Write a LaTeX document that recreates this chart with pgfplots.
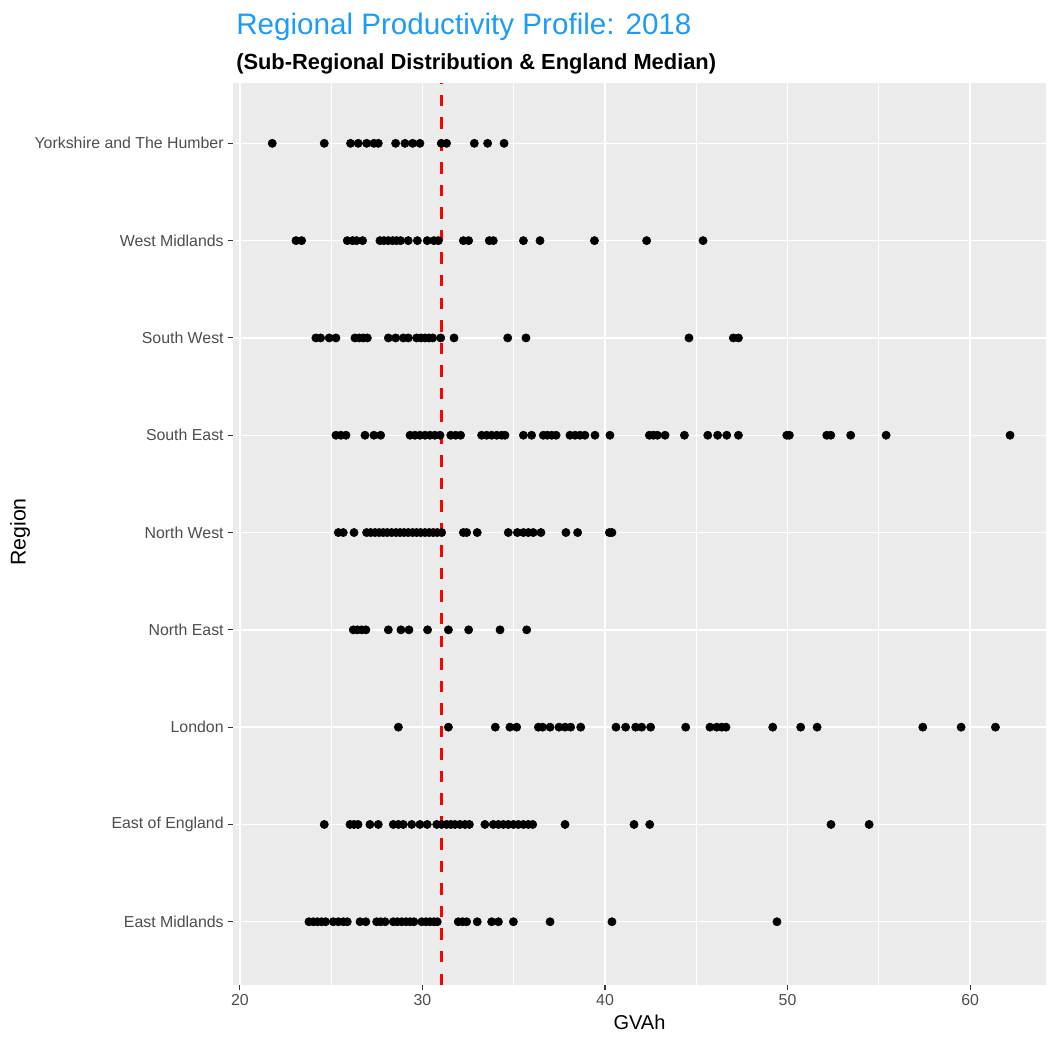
\documentclass[border=0pt]{standalone}
\usepackage{pgfplots}
\pgfplotsset{compat=1.18}
\usepackage{fontspec}
\setmainfont{Liberation Sans}
\definecolor{panelbg}{RGB}{235,235,235}
\definecolor{titleblue}{RGB}{30,155,245}
\definecolor{ticktext}{RGB}{77,77,77}
\definecolor{tickcol}{RGB}{51,51,51}
\begin{document}
\begin{tikzpicture}
\path[use as bounding box] (0,0) rectangle (789pt,777pt);
\begin{axis}[
 at={(174.75pt,38.25pt)}, anchor=south west,
 scale only axis, width=609.75pt, height=676.5pt,
 xmin=19.62, xmax=64.16, ymin=0.35, ymax=9.62,
 axis background/.style={fill=panelbg},
 axis line style={draw=none},
 xtick={20,30,40,50,60}, minor xtick={25,35,45,55},
 ytick={1,...,9},
 yticklabels={East Midlands, East of England, London, North East, North West, South East, South West, West Midlands, Yorkshire and The Humber},
 xtick pos=bottom, ytick pos=left,
 grid=both,
 major grid style={white, line width=1.1pt},
 minor grid style={white, line width=0.55pt},
 tick align=outside, major tick length=3.5pt, minor tick length=0pt,
 tick style={tickcol, line width=0.8pt},
 ticklabel style={font=\fontsize{11.9}{13}\selectfont, text=ticktext},
 /pgf/number format/assume math mode=true,
]
% East Midlands (1)
\addplot[only marks, mark=*, mark size=3.1pt, black] coordinates {
(23.78,1)(24.02,1)(24.24,1)(24.47,1)(24.69,1)(25.11,1)(25.39,1)(25.66,1)(25.88,1)
(26.58,1)(26.90,1)(27.49,1)(27.71,1)(27.95,1)(28.40,1)(28.62,1)(28.86,1)(29.10,1)
(29.32,1)(29.53,1)(29.96,1)(30.19,1)(30.41,1)(30.63,1)(30.81,1)(31.96,1)(32.20,1)
(32.42,1)(33.00,1)(33.79,1)(34.16,1)(34.98,1)(36.99,1)(40.38,1)(49.42,1)};
% East of England (2)
\addplot[only marks, mark=*, mark size=3.1pt, black] coordinates {
(24.62,2)(26.03,2)(26.25,2)(26.47,2)(27.12,2)(27.58,2)(28.40,2)(28.68,2)(28.95,2)
(29.41,2)(29.86,2)(30.26,2)(30.78,2)(31.05,2)(31.32,2)(31.55,2)(31.78,2)(32.05,2)
(32.33,2)(32.57,2)(33.42,2)(33.88,2)(34.16,2)(34.43,2)(34.70,2)(34.98,2)(35.25,2)
(35.53,2)(35.80,2)(36.04,2)(37.81,2)(41.59,2)(42.45,2)(52.38,2)(54.47,2)};
% London (3)
\addplot[only marks, mark=*, mark size=3.1pt, black] coordinates {
(28.68,3)(31.42,3)(33.99,3)(34.79,3)(35.16,3)(36.35,3)(36.58,3)(36.99,3)(37.48,3)
(37.81,3)(38.12,3)(38.67,3)(40.60,3)(41.13,3)(41.68,3)(42.01,3)(42.50,3)(44.42,3)
(45.75,3)(46.12,3)(46.39,3)(46.63,3)(49.19,3)(50.72,3)(51.62,3)(57.41,3)(59.51,3)(61.39,3)};
% North East (4)
\addplot[only marks, mark=*, mark size=3.1pt, black] coordinates {
(26.21,4)(26.43,4)(26.67,4)(26.90,4)(28.13,4)(28.82,4)(29.26,4)(30.28,4)(31.42,4)
(32.53,4)(34.25,4)(35.71,4)};
% North West (5)
\addplot[only marks, mark=*, mark size=3.1pt, black] coordinates {
(25.39,5)(25.66,5)(26.25,5)(26.94,5)(27.16,5)(27.40,5)(27.63,5)(27.85,5)(28.07,5)
(28.31,5)(28.55,5)(28.77,5)(28.99,5)(29.22,5)(29.46,5)(29.68,5)(29.90,5)(30.14,5)
(30.37,5)(30.59,5)(30.81,5)(31.05,5)(32.24,5)(32.42,5)(33.00,5)(34.70,5)(35.20,5)
(35.53,5)(35.80,5)(36.07,5)(36.49,5)(37.86,5)(38.50,5)(40.24,5)(40.38,5)};
% South East (6)
\addplot[only marks, mark=*, mark size=3.1pt, black] coordinates {
(25.26,6)(25.53,6)(25.81,6)(26.85,6)(27.34,6)(27.71,6)(29.32,6)(29.59,6)(29.86,6)
(30.14,6)(30.41,6)(30.68,6)(30.96,6)(31.55,6)(31.82,6)(32.09,6)(33.24,6)(33.52,6)
(33.79,6)(34.07,6)(34.34,6)(34.52,6)(35.53,6)(35.98,6)(36.62,6)(36.84,6)(37.08,6)
(37.32,6)(38.08,6)(38.36,6)(38.63,6)(38.90,6)(39.45,6)(40.27,6)(42.43,6)(42.65,6)
(42.87,6)(43.29,6)(44.35,6)(45.63,6)(46.17,6)(46.67,6)(47.31,6)(49.96,6)(50.10,6)
(52.15,6)(52.37,6)(53.46,6)(55.40,6)(62.19,6)};
% South West (7)
\addplot[only marks, mark=*, mark size=3.1pt, black] coordinates {
(24.16,7)(24.42,7)(24.89,7)(25.26,7)(26.30,7)(26.54,7)(26.76,7)(26.98,7)(28.13,7)
(28.53,7)(28.95,7)(29.22,7)(29.68,7)(29.92,7)(30.14,7)(30.36,7)(30.56,7)(31.00,7)
(31.73,7)(34.67,7)(35.67,7)(44.60,7)(47.03,7)(47.31,7)};
% West Midlands (8)
\addplot[only marks, mark=*, mark size=3.1pt, black] coordinates {
(23.07,8)(23.38,8)(25.88,8)(26.17,8)(26.39,8)(26.72,8)(27.67,8)(27.89,8)(28.13,8)
(28.37,8)(28.58,8)(28.80,8)(29.22,8)(29.72,8)(30.26,8)(30.63,8)(30.87,8)(32.24,8)
(32.53,8)(33.66,8)(33.88,8)(35.53,8)(36.44,8)(39.42,8)(42.28,8)(45.37,8)};
% Yorkshire and The Humber (9)
\addplot[only marks, mark=*, mark size=3.1pt, black] coordinates {
(21.77,9)(24.62,9)(26.06,9)(26.48,9)(26.94,9)(27.34,9)(27.58,9)(28.53,9)(29.04,9)
(29.46,9)(29.86,9)(31.03,9)(31.32,9)(32.84,9)(33.57,9)(34.47,9)};
% England median
\addplot[red, line width=2pt, dash pattern=on 8.6pt off 8.3pt] coordinates {(31.03,0.35) (31.03,9.62)};
\end{axis}
\node[anchor=base west, inner sep=0pt, font=\fontsize{22.2}{26}\selectfont, text=titleblue] at (177pt,751pt) {Regional Productivity Profile: 2018};
\node[anchor=base west, inner sep=0pt, font=\bfseries\fontsize{16.4}{19}\selectfont] at (177pt,725pt) {(Sub-Regional Distribution \& England Median)};
\node[rotate=90, font=\fontsize{16}{19}\selectfont] at (15pt,378pt) {Region};
\node[font=\fontsize{15}{18}\selectfont] at (479.6pt,10.5pt) {GVAh};
\end{tikzpicture}
\end{document}
